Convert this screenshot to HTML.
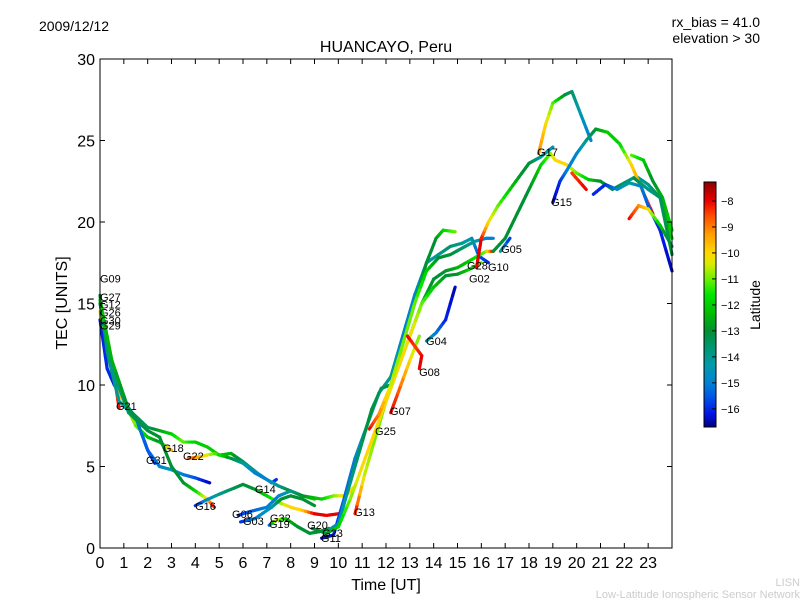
<!DOCTYPE html>
<html><head><meta charset="utf-8"><style>
body{margin:0;background:#fff;}
svg{display:block;font-family:"Liberation Sans","DejaVu Sans",sans-serif;}
</style></head><body>
<svg id="chart" width="800" height="600" viewBox="0 0 800 600">
<text x="39" y="31" font-size="14">2009/12/12</text>
<text x="760" y="27" font-size="14" text-anchor="end">rx_bias = 41.0</text>
<text x="760" y="43" font-size="14" text-anchor="end">elevation &gt; 30</text>
<text x="386" y="52" font-size="16" text-anchor="middle">HUANCAYO, Peru</text>
<text x="386" y="590" font-size="16" text-anchor="middle">Time [UT]</text>
<text x="67" y="303" font-size="16" text-anchor="middle" transform="rotate(-90 67 303)">TEC [UNITS]</text>
<text x="760" y="305" font-size="14" text-anchor="middle" transform="rotate(-90 760 305)">Latitude</text>
<text x="800" y="586" font-size="11" fill="#ccc" text-anchor="end">LISN</text>
<text x="800" y="598" font-size="11" fill="#ccc" text-anchor="end">Low-Latitude Ionospheric Sensor Network</text>
<g id="colorbar"></g>
<g id="cbticks"></g>
<g id="marks"></g>
<g id="labels"></g>
<rect x="100" y="59" width="572" height="489" fill="none" stroke="#000" stroke-width="1"/>
<g id="axes"></g>
</svg>
<script>
const xTicks=[0,1,2,3,4,5,6,7,8,9,10,11,12,13,14,15,16,17,18,19,20,21,22,23];
const yTicks=[0,5,10,15,20,25,30];
const cbTicks=[-8,-9,-10,-11,-12,-13,-14,-15,-16];
const trackT=[
[0,0.3,0.6,0.8],
[0,0.3,0.6,1,1.5,2,2.3],
[0,0.4,0.8,1,1.5,2,2.5,3],
[0,0.3,0.8,1.5,2,2.5,3,3.5,4,4.6],
[0,0.5,1.2,2,2.5,3,3.5,4,4.5,4.8],
[0,0.5,1.2,2,3,3.5,4,4.5,5,5.5,6,6.6,7.2,7.4],
[3.7,4.2,4.8,5.5,6,6.5,7,7.5,8,8.5,9],
[4,4.4,5,5.5,6,6.5,7,7.5,8,8.5,9,9.5,10],
[5.8,6.2,7,7.5,8,8.5,9.3,9.8,10.3,10.7],
[5.9,6.5,7.2,7.6,8,8.5,9],
[7.1,7.4,7.8,8.3,8.8,9.2,9.6],
[9.3,9.8,10.2,10.7,11.2,11.7,12.2,12.7,13.2,13.7,14.2,14.7,15.2,15.6,15.9,16.3],
[9.6,10,10.4,10.9,11.4,11.8,12.2,12.7,13.2,13.7,14.1,14.4,14.9],
[10.7,11.1,11.6,12,12.5,13,13.5,14,14.5,15,15.6,16.2,16.5],
[8.9,9.5,10,10.5,11,11.5,12,12.5,13,13.5,14,14.5,15,15.5,16],
[11.3,11.7,12.2,12.7,13.2,13.7,14.2,14.7,15.2,15.7,16.2,16.5],
[12.2,12.5,13,13.4],
[13.4,13.5,13.2,12.9],
[13.7,14.1,14.5,14.9],
[15.8,16,16.3,16.7,17.2,17.7,18,18.5,19],
[18.4,18.7,19,19.5,19.8,20.2,20.6],
[16.5,17,17.5,18,18.5,18.9,19.1,19.6,20,20.5,21,21.5,22,22.5,23,23.5,24],
[16.8,17.2],
[19,19.3,19.6,20,20.4,20.8,21.3,21.8,22.3,22.8,23.2],
[19.8,20.4],
[20.7,21.2,21.7,22.2,22.7,23,23.5,24],
[22.3,22.8,23.2,23.6,24],
[22.2,22.6,23,23.5,24],
[22.4,23,23.5,24]
];
const trackTec=[
[15,13,10.5,8.6],
[14,11,10,9,8,6,5.2],
[14.5,12,9.5,9,7.5,6.8,6.5,6],
[15.5,12,9,8,6,5,4.8,4.5,4.3,4],
[15,11,8.3,7.2,6.8,5,4,3.5,3,2.5],
[15.2,11.5,8.5,7.4,7,6.5,6.5,6.2,5.7,5.8,5.3,4.6,4.0,4.2],
[5.5,5.6,5.8,5.5,5.2,4.6,4.2,3.8,3.5,3.2,3.0],
[2.6,2.9,3.3,3.6,3.9,3.6,3.2,2.8,2.5,2.3,2.1,2.0,2.1],
[2,2.2,2.5,3.2,3.5,3.2,3.0,3.2,3.2,3.8],
[1.6,1.8,2.5,3,3.2,3,2.6],
[1.4,1.7,1.8,1.3,0.9,1.0,1.2],
[0.6,0.8,2.8,5.5,7.5,9.5,10.5,13,15.5,17.5,18,18.5,18.7,19,17.9,17.5],
[1.1,1.5,3.5,6,8.5,9.8,10,12.5,15,17.5,19,19.5,19.4],
[2.1,4.5,7,9,11,13,15,16.5,17,17.2,17.7,18.2,18.2],
[1.2,0.9,1.3,3,5,7,9,11,13,15,16,16.7,16.8,17.1,17.5],
[7.3,8.2,10,12.5,15,17,17.8,18,18.4,18.8,19,19],
[8.3,9.5,11.5,13],
[11,11.8,12.4,13],
[12.7,13.2,14,16],
[17.2,19,20,21,22,23,23.6,24,24.6],
[24.2,26,27.3,27.8,28,26.5,25],
[18.2,19,20.5,22,23.5,24.2,23.8,23.5,23,22.6,22.5,22,22.4,22.8,22.3,21.5,19],
[18.2,19],
[21.2,22.5,23.2,24.2,25,25.7,25.5,24.8,23.5,21.8,20.5],
[23,22],
[21.7,22.3,22,22.4,22.2,21,19.5,17],
[24.1,23.8,22.5,21.5,19.5],
[20.2,21,20.8,19.8,18.5],
[22.7,22,21.5,18]
];
const trackLat=[
[-11,-11,-9,-8],
[-16,-16,-16,-15,-15,-16,-16.3],
[-10,-9.5,-9.5,-10,-11,-12,-13,-9],
[-13,-13.5,-14,-15,-15.5,-15,-14.5,-15,-15.5,-16.5],
[-14,-14,-13.5,-13,-13,-13,-13,-12,-10,-8],
[-12,-12.5,-13,-13.5,-12,-11,-12,-12,-12,-12.5,-13.5,-14,-15,-16],
[-8.5,-9.5,-11,-13,-14,-15,-15,-14,-13,-12,-12],
[-16,-15,-14,-13.5,-13,-13,-12,-11,-10,-10,-8,-8,-8],
[-16,-15.5,-15,-15,-14,-13,-12,-11,-10,-10],
[-16,-15,-14.5,-13,-13,-13,-13],
[-16,-10,-12,-13,-13,-13,-13],
[-16.5,-16,-15.5,-15,-14.5,-14,-14,-15,-15,-14.5,-14,-13.5,-14,-14.5,-15.5,-16],
[-14,-15,-14,-13.5,-13,-13.5,-13,-13,-12.5,-13,-13,-12,-11],
[-8,-10.5,-11,-11,-11.5,-12,-12.5,-13,-13,-12.5,-12,-11,-8],
[-13,-13,-12,-11,-10,-10,-10,-10,-10,-11,-12,-13,-13,-12,-11],
[-8,-9,-10.5,-11,-11,-12,-13,-13,-13.5,-14,-15,-15],
[-8,-8.5,-10,-11],
[-8,-8,-8.5,-8],
[-14,-15,-16,-16.5],
[-8,-8,-10,-11,-12,-13,-13,-14,-14.5],
[-9,-10,-11,-13,-13.5,-14.5,-15],
[-13,-13,-13,-13,-12,-11,-10,-10,-11,-12,-13,-13,-13.5,-14,-14,-13,-12],
[-14,-16],
[-16.5,-16,-15,-15,-14,-13,-12,-12,-10,-9,-8],
[-8.5,-8],
[-16,-16,-15,-14,-15,-15.5,-16,-16.5],
[-11,-12,-13,-12.5,-12],
[-8,-9,-10,-12,-14],
[-13,-14,-13.5,-13]
];
const satNames=["G09","G27","G12","G26","G30","G29","G21","G31","G18","G22","G16","G06","G03","G32","G19","G14","G20","G23","G11","G13","G25","G07","G08","G04","G28","G10","G02","G05","G17","G15"];
const labelT=[0,0,0,0,0,0,0.67,1.93,2.64,3.48,3.99,5.54,6.0,7.13,7.09,6.5,8.69,9.32,9.27,10.66,11.54,12.17,13.39,13.68,15.4,16.28,15.48,16.83,18.34,18.93];
const labelTec=[16.3,15.15,14.7,14.2,13.7,13.4,8.47,5.15,5.89,5.4,2.33,1.84,1.41,1.6,1.23,3.37,1.17,0.67,0.37,1.96,6.93,8.16,10.55,12.45,17.1,17.0,16.3,18.1,24.05,20.98];

const NS="http://www.w3.org/2000/svg";
const X0=100,X1=672,Y0=548,Y1=59;
const xs=t=>X0+(t/24)*(X1-X0);
const ys=v=>Y0-(v/30)*(Y0-Y1);
const LMIN=-16.7,LMAX=-7.27;
const cy=l=>427-(l-LMIN)/(LMAX-LMIN)*245;
// colormap stops (lat, r,g,b)
const CM=[[-16.7,0,0,130],[-16.2,0,20,230],[-15.5,0,90,230],[-15,0,130,210],[-14.3,0,155,170],[-13.6,0,150,110],[-13,0,145,50],[-12.3,0,190,0],[-11.6,0,230,0],[-11,110,240,0],[-10.4,220,235,0],[-10,255,215,0],[-9.3,255,160,0],[-8.6,255,80,0],[-8,235,0,0],[-7.27,140,0,0]];
function cmap(l){
  if(l<=CM[0][0])return `rgb(${CM[0][1]},${CM[0][2]},${CM[0][3]})`;
  for(let i=0;i<CM.length-1;i++){
    const a=CM[i],b=CM[i+1];
    if(l<=b[0]){const f=(l-a[0])/(b[0]-a[0]);
      return `rgb(${Math.round(a[1]+(b[1]-a[1])*f)},${Math.round(a[2]+(b[2]-a[2])*f)},${Math.round(a[3]+(b[3]-a[3])*f)})`;}
  }
  const z=CM[CM.length-1];return `rgb(${z[1]},${z[2]},${z[3]})`;
}
function mk(tag,attrs,parent){const e=document.createElementNS(NS,tag);for(const k in attrs)e.setAttribute(k,attrs[k]);parent.appendChild(e);return e;}
const cbar=document.getElementById('colorbar');
for(let y=182;y<427;y++){
  const l=LMIN+(427-y-0.5)/245*(LMAX-LMIN);
  mk('rect',{x:704,y:y,width:12,height:1.2,fill:cmap(l)},cbar);
}
mk('rect',{x:704,y:182,width:12,height:245,fill:'none',stroke:'#000'},cbar);
const axes=document.getElementById('axes');
xTicks.forEach(t=>{
  const x=xs(t);
  const a=mk('line',{x1:x,x2:x,y1:Y0,y2:Y0-5,stroke:'#000'},axes);
  
  
  const b=mk('line',{x1:x,x2:x,y1:Y1,y2:Y1+5,stroke:'#000'},axes);
  
  
  const tx=mk('text',{x:x,y:568,'font-size':16,'text-anchor':'middle'},axes);
  tx.textContent=t;
  
  
});
yTicks.forEach(v=>{
  const y=ys(v);
  const a=mk('line',{x1:X0,x2:X0+5,y1:y,y2:y,stroke:'#000'},axes);
  
  
  const b=mk('line',{x1:X1,x2:X1-5,y1:y,y2:y,stroke:'#000'},axes);
  
  
  const tx=mk('text',{x:95,y:y+6,'font-size':16,'text-anchor':'end'},axes);
  tx.textContent=v;
  
  
});
const cbg=document.getElementById('cbticks');
cbTicks.forEach(l=>{
  const y=cy(l);
  const a=mk('line',{x1:716,x2:712,y1:y,y2:y,stroke:'#000'},cbg);
  
  
  const tx=mk('text',{x:721,y:y+4,'font-size':11},cbg);
  tx.textContent='\u2212'+Math.abs(l);
  
  
});
const marks=document.getElementById('marks');
trackT.forEach((ts,i)=>{
  const g=mk('g',{},marks);
  
  
  const tec=trackTec[i],lat=trackLat[i];
  for(let j=0;j<ts.length-1;j++){
    const n=4;
    for(let k=0;k<n;k++){
      const f0=k/n,f1=(k+1)/n;
      const t0=ts[j]+(ts[j+1]-ts[j])*f0,t1=ts[j]+(ts[j+1]-ts[j])*f1;
      const v0=tec[j]+(tec[j+1]-tec[j])*f0,v1=tec[j]+(tec[j+1]-tec[j])*f1;
      const l=lat[j]+(lat[j+1]-lat[j])*(f0+f1)/2;
      const s=mk('line',{x1:xs(t0),y1:ys(v0),x2:xs(t1),y2:ys(v1),stroke:cmap(l),'stroke-width':3.2,'stroke-linecap':'round'},g);
      
      
    }
  }
});
const lg=document.getElementById('labels');
satNames.forEach((n,i)=>{
  const tx=mk('text',{x:xs(labelT[i]),y:ys(labelTec[i]),'font-size':11},lg);
  tx.textContent=n;
  
  
});
</script>
</body></html>
